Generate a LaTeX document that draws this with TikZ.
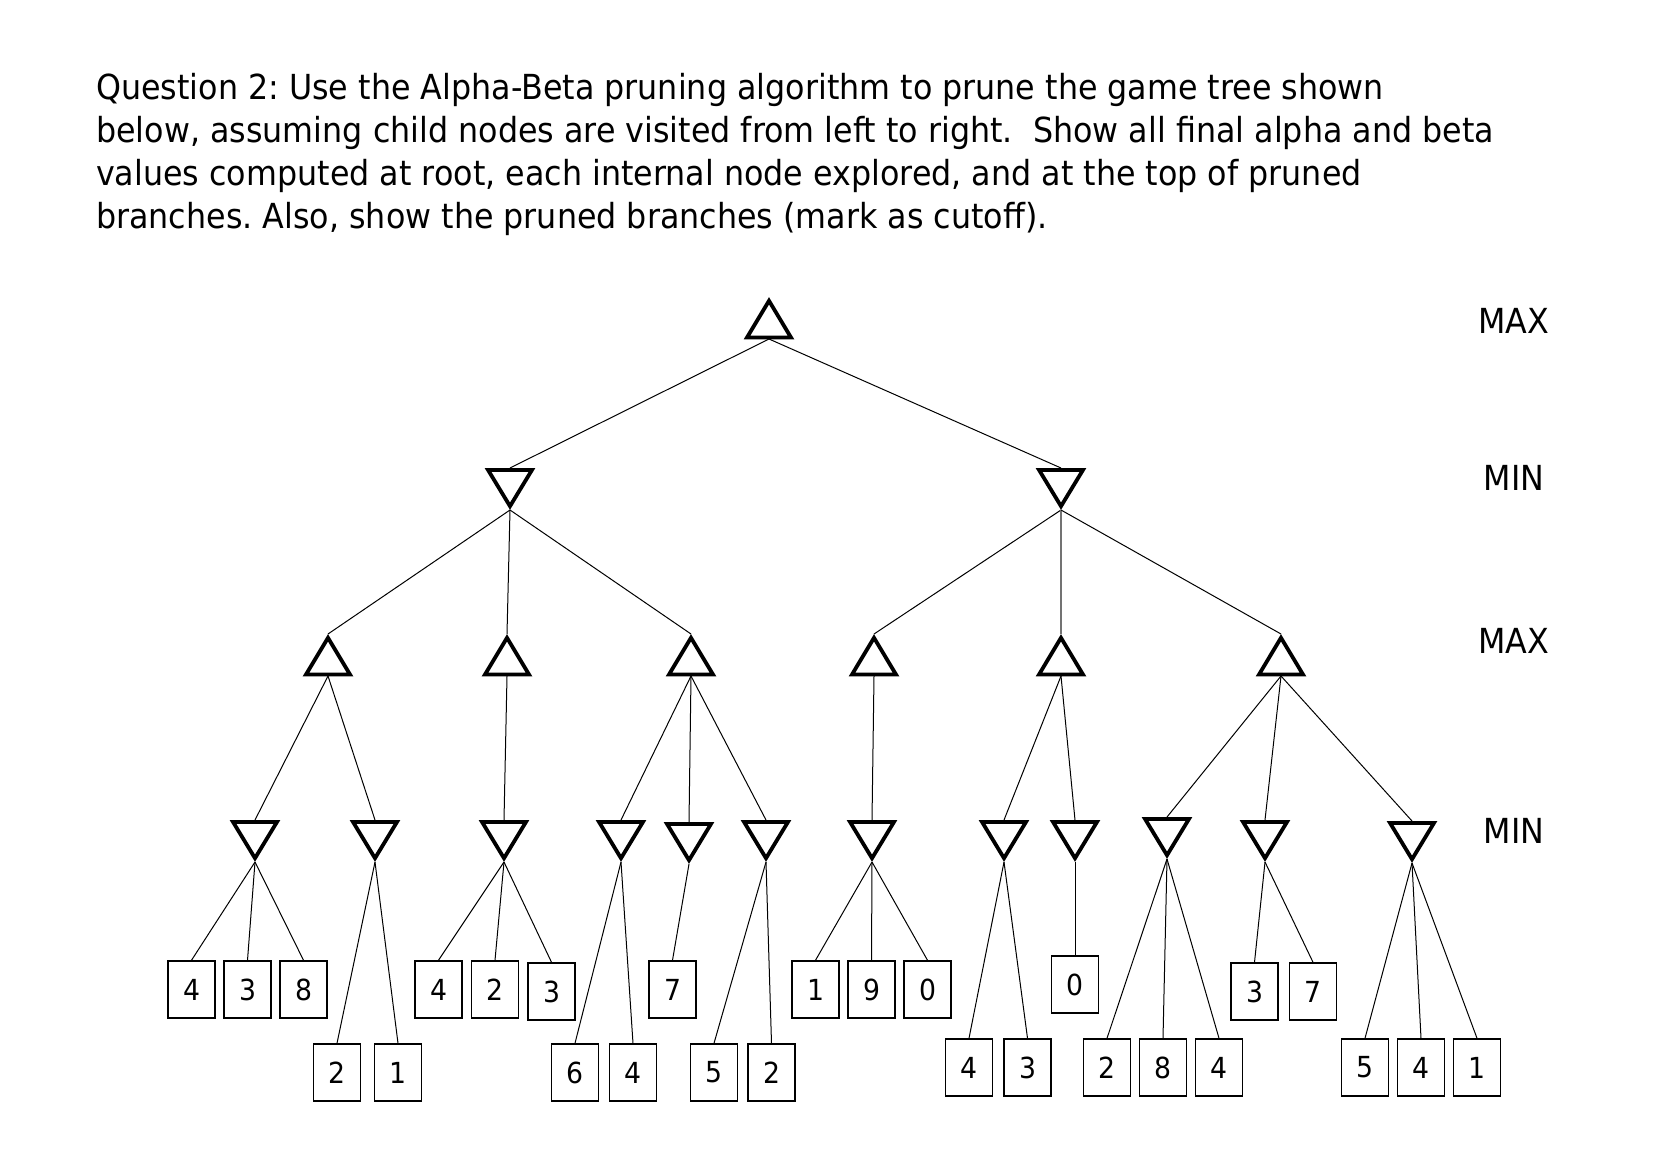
\documentclass[tikz,border=0pt]{standalone}
\usepackage{fontspec}
\setmainfont{DejaVu Sans}[FakeStretch=0.92]
\frenchspacing
\begin{document}
\tikzset{
  tri/.style={line width=3.8pt, line join=miter, fill=white},
  edge/.style={line width=1pt},
  grayedge/.style={line width=1.3pt, black!55},
  leaf/.style={draw, line width=1.5pt, minimum width=47pt, minimum height=57pt, inner sep=0pt, font=\fontsize{29}{29}\selectfont},
  titleline/.style={anchor=base west, inner sep=0pt, font=\fontsize{34.5}{40}\selectfont},
  lvl/.style={anchor=base, inner sep=0pt, font=\fontsize{34.5}{40}\selectfont}
}
% #1 name, #2 x, #3 outer apex y
\newcommand\maxtri[3]{%
  \coordinate (#1-t) at (#2,#3);
  \coordinate (#1-b) at (#2,#3+42);
  \draw[tri] (#2,#3+3.8) -- (#2+22,#3+40.5) -- (#2-22,#3+40.5) -- cycle;}
% #1 name, #2 x, #3 outer top y
\newcommand\mintri[3]{%
  \coordinate (#1-t) at (#2,#3);
  \coordinate (#1-b) at (#2,#3+42);
  \draw[tri] (#2,#3+38.2) -- (#2-22,#3+1.9) -- (#2+22,#3+1.9) -- cycle;}
\begin{tikzpicture}[x=1pt,y=-1pt]
\fill[white] (0,0) rectangle (1656,1170);
\useasboundingbox (0,0) rectangle (1656,1170);

% title
\node[titleline] (t1) at (96,99.3) {Question 2: Use the Alpha-Beta pruning algorithm to prune the game tree shown};
\node[titleline] (t2) at (96,142) {below, assuming child nodes are visited from left to right.\ \ Show all final alpha and beta};
\node[titleline] (t3) at (96,185) {values computed at root, each internal node explored, and at the top of pruned};
\node[titleline] (t4) at (96,228) {branches. Also, show the pruned branches (mark as cutoff).};

% level labels
\node[lvl] (L0) at (1514,333.5) {MAX};
\node[lvl] (L1) at (1514,490) {MIN};
\node[lvl] (L2) at (1514,653) {MAX};
\node[lvl] (L3) at (1514,843) {MIN};

% coordinates of tree nodes (triangles drawn later)
\coordinate (r-t) at (769,297);   \coordinate (r-b) at (769,339);
\coordinate (q1-t) at (510,468);  \coordinate (q1-b) at (510,510);
\coordinate (q2-t) at (1061,468); \coordinate (q2-b) at (1061,510);
\foreach \n/\x in {p1/328,p2/507,p3/691,p4/874,p5/1061,p6/1281}{
  \coordinate (\n-t) at (\x,634); \coordinate (\n-b) at (\x,676);}
\foreach \n/\x/\y in {m1/255/820,m2/375/820,m3/504/820,m4/621/820,m5/689/822,m6/766/820,m7/872/820,m8/1004/820,m9/1075/820,m10/1167/817,m11/1265/820,m12/1412/821}{
  \coordinate (\n-t) at (\x,\y); \coordinate (\n-b) at (\x,\y+42);}

% leaves
\node[leaf] (a1) at (191.5,989.5) {4};
\node[leaf] (a2) at (247.5,989.5) {3};
\node[leaf] (a3) at (303.5,989.5) {8};
\node[leaf] (b1) at (337,1072.5) {2};
\node[leaf] (b2) at (398,1072.5) {1};
\node[leaf] (c1) at (438.5,989.5) {4};
\node[leaf] (c2) at (495,989.5) {2};
\node[leaf] (c3) at (551.5,991.5) {3};
\node[leaf] (d1) at (575,1072.5) {6};
\node[leaf] (d2) at (633,1072.5) {4};
\node[leaf] (e1) at (672.5,989.5) {7};
\node[leaf] (f1) at (714,1072.5) {5};
\node[leaf] (f2) at (771.5,1072.5) {2};
\node[leaf] (g1) at (815.5,989.5) {1};
\node[leaf] (g2) at (871.5,989.5) {9};
\node[leaf] (g3) at (927.5,989.5) {0};
\node[leaf] (h1) at (969,1067.5) {4};
\node[leaf] (h2) at (1027.5,1067.5) {3};
\node[leaf] (i1) at (1075,984.5) {0};
\node[leaf] (j1) at (1107,1067.5) {2};
\node[leaf] (j2) at (1163,1067.5) {8};
\node[leaf] (j3) at (1219,1067.5) {4};
\node[leaf] (k1) at (1254.5,991.5) {3};
\node[leaf] (k2) at (1313,991.5) {7};
\node[leaf] (n1) at (1365,1067.5) {5};
\node[leaf] (n2) at (1421,1067.5) {4};
\node[leaf] (n3) at (1477,1067.5) {1};

% edges
\draw[edge] (r-b) -- (q1-t);
\draw[edge] (r-b) -- (q2-t);
\foreach \c in {p1,p2,p3} \draw[edge] (q1-b) -- (\c-t);
\draw[edge] (q2-b) -- (p4-t);
\draw[grayedge] (q2-b) -- (p5-t);
\draw[edge] (q2-b) -- (p6-t);
\foreach \p/\c in {p1/m1,p1/m2,p2/m3,p3/m4,p3/m5,p3/m6,p4/m7,p5/m8,p5/m9,p6/m10,p6/m11,p6/m12}
  \draw[edge] (\p-b) -- (\c-t);
\foreach \m/\l in {m1/a1,m1/a2,m1/a3,m2/b1,m2/b2,m3/c1,m3/c2,m3/c3,m4/d1,m4/d2,m5/e1,m6/f1,m6/f2,m7/g1,m7/g2,m7/g3,m8/h1,m8/h2,m9/i1,m10/j1,m10/j2,m10/j3,m11/k1,m11/k2,m12/n1,m12/n2,m12/n3}
  \draw[edge] (\m-b) -- (\l.north);

% triangles
\maxtri{r}{769}{297}
\mintri{q1}{510}{468}
\mintri{q2}{1061}{468}
\foreach \n/\x in {p1/328,p2/507,p3/691,p4/874,p5/1061,p6/1281}{\maxtri{\n}{\x}{634}}
\foreach \n/\x/\y in {m1/255/820,m2/375/820,m3/504/820,m4/621/820,m5/689/822,m6/766/820,m7/872/820,m8/1004/820,m9/1075/820,m10/1167/817,m11/1265/820,m12/1412/821}{\mintri{\n}{\x}{\y}}
\end{tikzpicture}
\end{document}
